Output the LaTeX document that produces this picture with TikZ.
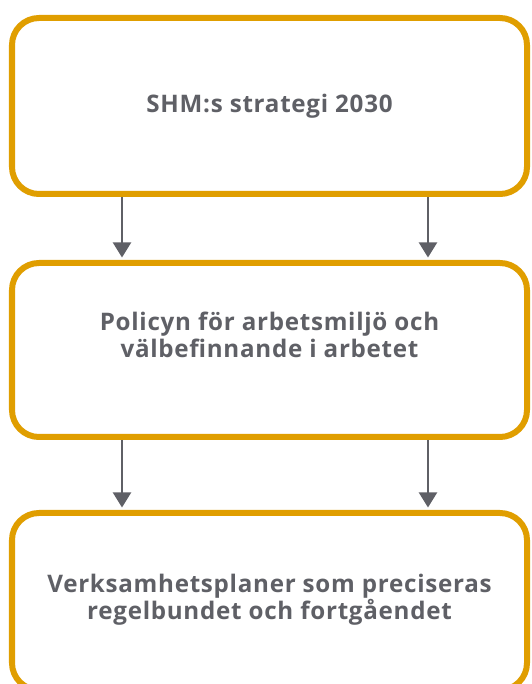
\documentclass[tikz,border=0pt]{standalone}
\usepackage{fontspec}
\setmainfont{Open Sans}[LetterSpace=3]
\usetikzlibrary{arrows.meta}
\definecolor{guld}{RGB}{224,158,0}
\definecolor{gra}{RGB}{95,96,102}

\begin{document}
\begin{tikzpicture}[
    ruta/.style={rectangle, draw=guld, line width=0.24cm, rounded corners=1.08cm, minimum width=20.6cm, fill=white},
    etikett/.style={text=gra, font=\fontsize{27.5}{31.5}\selectfont\bfseries, align=center, anchor=base},
    pil/.style={draw=gra, line width=0.08cm, -{Triangle[width=0.72cm,length=0.6cm]}, shorten >=0.1cm}
  ]
    \useasboundingbox (0, 0) rectangle (21.24, 27.36);

    % rutorna
    \node[ruta, minimum height=7.04cm] (S) at (10.78, 23.12) {};
    \node[ruta, minimum height=6.96cm] (P) at (10.78, 13.36) {};
    \node[ruta, minimum height=7.08cm] (V) at (10.78, 3.30) {};

    % texterna (base = sista radens baslinje)
    \node[etikett] (S_label) at (10.78, 22.84) {SHM:s strategi 2030};
    \node[etikett] (P_label) at (10.78, 13.04) {Policyn för arbetsmiljö och\\välbefinnande i arbetet};
    \node[etikett] (V_label) at (10.78, 2.56) {Verksamhetsplaner som preciseras\\regelbundet och fortgåendet};

    % pilarna
    \draw[pil] ([xshift=-5.9cm]S.south) -- ([xshift=-5.9cm]P.north);
    \draw[pil] ([xshift=6.34cm]S.south) -- ([xshift=6.34cm]P.north);
    \draw[pil] ([xshift=-5.9cm]P.south) -- ([xshift=-5.9cm]V.north);
    \draw[pil] ([xshift=6.34cm]P.south) -- ([xshift=6.34cm]V.north);

\end{tikzpicture}
\end{document}
